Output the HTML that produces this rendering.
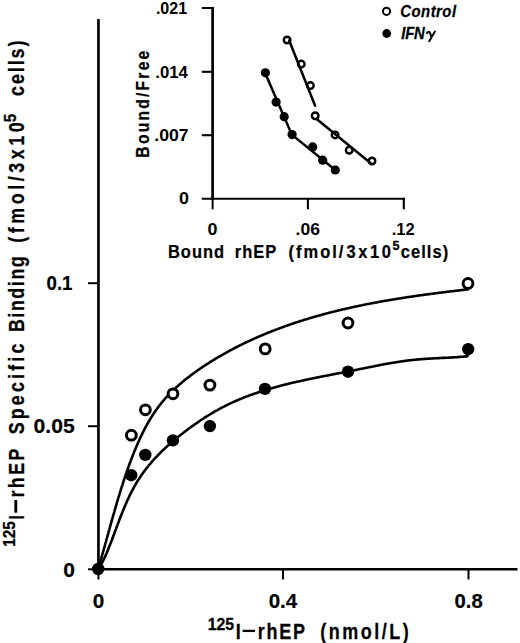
<!DOCTYPE html>
<html><head><meta charset="utf-8"><style>
html,body{margin:0;padding:0;background:#fff;}
body{width:520px;height:643px;overflow:hidden;font-family:"Liberation Sans",sans-serif;}
svg{display:block;}
</style></head><body>
<svg width="520" height="643" viewBox="0 0 520 643">
<rect width="520" height="643" fill="#fff"/>
<g stroke="#000" fill="none">
<line x1="98.45" y1="19.0" x2="98.45" y2="570.65" stroke-width="2.7"/>
<line x1="97.10000000000001" y1="569.3" x2="517.5" y2="569.3" stroke-width="2.4"/>
<line x1="88.0" y1="283.2" x2="98.45" y2="283.2" stroke-width="2.0"/>
<line x1="88.0" y1="426.2" x2="98.45" y2="426.2" stroke-width="2.0"/>
<line x1="88.0" y1="569.3" x2="98.45" y2="569.3" stroke-width="2.0"/>
<line x1="98.45" y1="569.3" x2="98.45" y2="579.5" stroke-width="2.0"/>
<line x1="283.0" y1="569.3" x2="283.0" y2="579.5" stroke-width="2.0"/>
<line x1="468.5" y1="569.3" x2="468.5" y2="579.5" stroke-width="2.0"/>
</g>
<path d="M98.1,569.1 L98.4,568.2 L98.7,567.2 L99.0,566.2 L99.3,565.2 L99.6,564.2 L99.8,563.2 L100.1,562.2 L100.4,561.3 L100.7,560.3 L101.0,559.3 L101.3,558.3 L101.5,557.3 L101.8,556.3 L102.1,555.3 L102.4,554.4 L102.7,553.4 L102.9,552.4 L103.2,551.4 L103.5,550.4 L103.8,549.4 L104.0,548.4 L104.3,547.4 L104.6,546.5 L104.9,545.5 L105.1,544.5 L105.4,543.5 L105.7,542.5 L106.0,541.5 L106.2,540.5 L106.5,539.5 L106.8,538.5 L107.1,537.5 L107.3,536.6 L107.6,535.6 L107.9,534.6 L108.2,533.6 L108.4,532.6 L108.7,531.6 L109.0,530.6 L109.3,529.6 L109.5,528.6 L109.8,527.7 L110.1,526.7 L110.4,525.7 L110.6,524.7 L110.9,523.7 L111.2,522.7 L111.5,521.7 L111.7,520.7 L112.0,519.7 L112.3,518.7 L112.6,517.8 L112.8,516.8 L113.1,515.8 L113.4,514.8 L113.7,513.8 L114.0,512.8 L114.3,511.8 L114.5,510.8 L114.8,509.8 L115.1,508.9 L115.4,507.9 L115.7,506.9 L116.0,505.9 L116.3,504.9 L116.5,503.9 L116.8,502.9 L117.1,502.0 L117.4,501.0 L117.7,500.0 L118.0,499.0 L118.3,498.0 L118.6,497.0 L118.9,496.0 L119.2,495.1 L119.5,494.1 L119.8,493.1 L120.1,492.1 L120.4,491.1 L120.7,490.2 L121.0,489.2 L121.3,488.2 L121.6,487.2 L122.0,486.2 L122.3,485.2 L122.6,484.3 L122.9,483.3 L123.2,482.3 L123.5,481.3 L123.9,480.4 L124.2,479.4 L124.5,478.4 L124.8,477.4 L125.2,476.5 L125.5,475.5 L125.8,474.5 L126.2,473.5 L126.5,472.6 L126.8,471.6 L127.2,470.6 L127.5,469.6 L127.9,468.7 L128.2,467.7 L128.5,466.7 L128.9,465.8 L129.2,464.8 L129.6,463.8 L130.0,462.9 L130.3,461.9 L130.7,460.9 L131.0,460.0 L131.4,459.0 L131.8,458.0 L132.1,457.1 L132.5,456.1 L132.9,455.2 L133.3,454.2 L133.6,453.2 L134.0,452.3 L134.4,451.3 L134.8,450.4 L135.2,449.4 L135.6,448.5 L136.0,447.5 L136.4,446.6 L136.8,445.6 L137.2,444.7 L137.6,443.7 L138.0,442.8 L138.4,441.8 L138.9,440.9 L139.3,440.0 L139.7,439.0 L140.1,438.1 L140.6,437.2 L141.0,436.2 L141.5,435.3 L141.9,434.4 L142.4,433.5 L142.8,432.6 L143.3,431.6 L143.7,430.7 L144.2,429.8 L144.7,428.9 L145.2,428.0 L145.6,427.1 L146.1,426.2 L146.6,425.3 L147.1,424.4 L147.6,423.5 L148.1,422.6 L148.6,421.8 L149.1,420.9 L149.6,420.0 L150.2,419.1 L150.7,418.3 L151.2,417.4 L151.8,416.5 L152.3,415.7 L152.9,414.8 L153.4,414.0 L154.0,413.1 L154.6,412.3 L155.1,411.4 L155.7,410.6 L156.3,409.8 L156.9,409.0 L157.5,408.1 L158.1,407.3 L158.7,406.5 L159.3,405.7 L159.9,404.9 L160.6,404.1 L161.2,403.3 L161.8,402.5 L162.5,401.8 L163.1,401.0 L163.8,400.2 L164.4,399.4 L165.1,398.7 L165.8,397.9 L166.5,397.2 L167.2,396.4 L167.9,395.7 L168.6,394.9 L169.3,394.2 L170.0,393.5 L170.7,392.8 L171.4,392.0 L172.1,391.3 L172.9,390.6 L173.6,389.9 L174.3,389.2 L175.1,388.5 L175.8,387.8 L176.6,387.1 L177.3,386.4 L178.1,385.7 L178.9,385.1 L179.6,384.4 L180.4,383.7 L181.2,383.1 L182.0,382.4 L182.7,381.7 L183.5,381.1 L184.3,380.4 L185.1,379.8 L185.9,379.1 L186.7,378.5 L187.5,377.9 L188.4,377.2 L189.2,376.6 L190.0,376.0 L190.8,375.3 L191.6,374.7 L192.5,374.1 L193.3,373.5 L194.1,372.9 L195.0,372.3 L195.8,371.7 L196.6,371.1 L197.5,370.5 L198.3,369.9 L199.2,369.3 L200.0,368.7 L200.9,368.2 L201.7,367.6 L202.6,367.0 L203.4,366.4 L204.3,365.9 L205.2,365.3 L206.0,364.7 L206.9,364.2 L207.7,363.6 L208.6,363.1 L209.5,362.5 L210.4,362.0 L211.2,361.4 L212.1,360.9 L213.0,360.3 L213.8,359.8 L214.7,359.3 L215.6,358.7 L216.5,358.2 L217.4,357.7 L218.2,357.2 L219.1,356.6 L220.0,356.1 L220.9,355.6 L221.8,355.1 L222.7,354.6 L223.6,354.1 L224.5,353.6 L225.4,353.1 L226.3,352.6 L227.2,352.1 L228.1,351.6 L229.0,351.1 L229.9,350.6 L230.8,350.1 L231.7,349.6 L232.6,349.2 L233.5,348.7 L234.4,348.2 L235.3,347.7 L236.2,347.3 L237.1,346.8 L238.0,346.3 L238.9,345.9 L239.8,345.4 L240.8,345.0 L241.7,344.5 L242.6,344.1 L243.5,343.6 L244.4,343.2 L245.4,342.7 L246.3,342.3 L247.2,341.9 L248.1,341.4 L249.1,341.0 L250.0,340.6 L250.9,340.1 L251.8,339.7 L252.8,339.3 L253.7,338.9 L254.6,338.4 L255.6,338.0 L256.5,337.6 L257.4,337.2 L258.4,336.8 L259.3,336.4 L260.3,336.0 L261.2,335.6 L262.1,335.2 L263.1,334.8 L264.0,334.4 L265.0,334.0 L265.9,333.6 L266.9,333.2 L267.8,332.8 L268.8,332.4 L269.7,332.1 L270.7,331.7 L271.6,331.3 L272.6,330.9 L273.5,330.6 L274.5,330.2 L275.4,329.8 L276.4,329.5 L277.4,329.1 L278.3,328.7 L279.3,328.4 L280.2,328.0 L281.2,327.7 L282.2,327.3 L283.1,327.0 L284.1,326.6 L285.0,326.3 L286.0,325.9 L287.0,325.6 L287.9,325.3 L288.9,324.9 L289.9,324.6 L290.9,324.2 L291.8,323.9 L292.8,323.6 L293.8,323.3 L294.7,322.9 L295.7,322.6 L296.7,322.3 L297.7,322.0 L298.6,321.7 L299.6,321.3 L300.6,321.0 L301.6,320.7 L302.6,320.4 L303.5,320.1 L304.5,319.8 L305.5,319.5 L306.5,319.2 L307.5,318.9 L308.4,318.6 L309.4,318.3 L310.4,318.0 L311.4,317.7 L312.4,317.4 L313.4,317.1 L314.4,316.9 L315.4,316.6 L316.3,316.3 L317.3,316.0 L318.3,315.7 L319.3,315.5 L320.3,315.2 L321.3,314.9 L322.3,314.6 L323.3,314.4 L324.3,314.1 L325.3,313.8 L326.3,313.6 L327.3,313.3 L328.3,313.1 L329.2,312.8 L330.2,312.5 L331.2,312.3 L332.2,312.0 L333.2,311.8 L334.2,311.5 L335.2,311.3 L336.2,311.0 L337.2,310.8 L338.2,310.5 L339.2,310.3 L340.2,310.1 L341.2,309.8 L342.2,309.6 L343.2,309.3 L344.3,309.1 L345.3,308.9 L346.3,308.6 L347.3,308.4 L348.3,308.2 L349.3,308.0 L350.3,307.7 L351.3,307.5 L352.3,307.3 L353.3,307.1 L354.3,306.8 L355.3,306.6 L356.3,306.4 L357.3,306.2 L358.3,306.0 L359.4,305.8 L360.4,305.6 L361.4,305.4 L362.4,305.1 L363.4,304.9 L364.4,304.7 L365.4,304.5 L366.4,304.3 L367.4,304.1 L368.4,303.9 L369.5,303.7 L370.5,303.5 L371.5,303.3 L372.5,303.1 L373.5,303.0 L374.5,302.8 L375.5,302.6 L376.5,302.4 L377.6,302.2 L378.6,302.0 L379.6,301.8 L380.6,301.6 L381.6,301.5 L382.6,301.3 L383.6,301.1 L384.7,300.9 L385.7,300.7 L386.7,300.6 L387.7,300.4 L388.7,300.2 L389.7,300.0 L390.7,299.9 L391.8,299.7 L392.8,299.5 L393.8,299.4 L394.8,299.2 L395.8,299.0 L396.8,298.9 L397.8,298.7 L398.9,298.5 L399.9,298.4 L400.9,298.2 L401.9,298.0 L402.9,297.9 L403.9,297.7 L405.0,297.6 L406.0,297.4 L407.0,297.3 L408.0,297.1 L409.0,297.0 L410.0,296.8 L411.0,296.7 L412.1,296.5 L413.1,296.4 L414.1,296.2 L415.1,296.1 L416.1,295.9 L417.1,295.8 L418.1,295.6 L419.2,295.5 L420.2,295.3 L421.2,295.2 L422.2,295.1 L423.2,294.9 L424.2,294.8 L425.2,294.6 L426.3,294.5 L427.3,294.4 L428.3,294.2 L429.3,294.1 L430.3,294.0 L431.3,293.8 L432.3,293.7 L433.3,293.6 L434.4,293.4 L435.4,293.3 L436.4,293.2 L437.4,293.0 L438.4,292.9 L439.4,292.8 L440.4,292.7 L441.4,292.5 L442.4,292.4 L443.4,292.3 L444.4,292.2 L445.5,292.0 L446.5,291.9 L447.5,291.8 L448.5,291.7 L449.5,291.5 L450.5,291.4 L451.5,291.3 L452.5,291.2 L453.5,291.1 L454.5,290.9 L455.5,290.8 L456.5,290.7 L457.5,290.6 L458.5,290.5 L459.5,290.4 L460.5,290.2 L461.5,290.1 L462.5,290.0 L463.5,289.9 L464.5,289.8 L465.5,289.7 L466.5,289.6" stroke="#000" stroke-width="2.6" fill="none" stroke-linejoin="round"/>
<path d="M98.4,569.3 L98.9,568.5 L99.4,567.7 L99.8,566.9 L100.3,566.1 L100.8,565.2 L101.2,564.4 L101.6,563.6 L102.1,562.8 L102.5,562.0 L102.9,561.1 L103.3,560.3 L103.7,559.5 L104.1,558.6 L104.5,557.8 L104.9,557.0 L105.3,556.1 L105.7,555.3 L106.0,554.4 L106.4,553.6 L106.8,552.7 L107.1,551.9 L107.5,551.0 L107.8,550.2 L108.2,549.3 L108.5,548.5 L108.9,547.6 L109.2,546.8 L109.6,545.9 L109.9,545.0 L110.2,544.2 L110.6,543.3 L110.9,542.5 L111.2,541.6 L111.6,540.7 L111.9,539.9 L112.2,539.0 L112.6,538.1 L112.9,537.3 L113.2,536.4 L113.5,535.5 L113.9,534.7 L114.2,533.8 L114.5,532.9 L114.8,532.0 L115.2,531.2 L115.5,530.3 L115.8,529.4 L116.1,528.6 L116.4,527.7 L116.8,526.8 L117.1,525.9 L117.4,525.1 L117.7,524.2 L118.1,523.3 L118.4,522.5 L118.7,521.6 L119.1,520.7 L119.4,519.8 L119.7,519.0 L120.1,518.1 L120.4,517.2 L120.7,516.3 L121.1,515.5 L121.4,514.6 L121.8,513.7 L122.1,512.9 L122.5,512.0 L122.8,511.1 L123.2,510.3 L123.5,509.4 L123.9,508.5 L124.2,507.7 L124.6,506.8 L125.0,505.9 L125.4,505.1 L125.7,504.2 L126.1,503.3 L126.5,502.5 L126.9,501.6 L127.2,500.8 L127.6,499.9 L128.0,499.1 L128.4,498.2 L128.8,497.4 L129.2,496.5 L129.6,495.7 L130.0,494.9 L130.4,494.0 L130.9,493.2 L131.3,492.4 L131.7,491.5 L132.1,490.7 L132.6,489.9 L133.0,489.1 L133.4,488.2 L133.9,487.4 L134.3,486.6 L134.8,485.8 L135.2,485.0 L135.7,484.2 L136.2,483.4 L136.6,482.6 L137.1,481.8 L137.6,481.0 L138.1,480.2 L138.6,479.5 L139.1,478.7 L139.6,477.9 L140.1,477.2 L140.6,476.4 L141.1,475.6 L141.6,474.9 L142.2,474.1 L142.7,473.4 L143.2,472.6 L143.8,471.9 L144.3,471.2 L144.9,470.4 L145.4,469.7 L146.0,469.0 L146.5,468.2 L147.1,467.5 L147.7,466.8 L148.3,466.1 L148.8,465.4 L149.4,464.7 L150.0,464.0 L150.6,463.3 L151.2,462.6 L151.8,461.9 L152.4,461.2 L153.0,460.5 L153.6,459.8 L154.2,459.2 L154.9,458.5 L155.5,457.8 L156.1,457.1 L156.7,456.5 L157.4,455.8 L158.0,455.1 L158.6,454.5 L159.3,453.8 L159.9,453.2 L160.6,452.5 L161.2,451.9 L161.9,451.2 L162.6,450.6 L163.2,450.0 L163.9,449.3 L164.6,448.7 L165.2,448.1 L165.9,447.4 L166.6,446.8 L167.3,446.2 L168.0,445.6 L168.7,445.0 L169.4,444.3 L170.0,443.7 L170.7,443.1 L171.4,442.5 L172.1,441.9 L172.8,441.3 L173.6,440.7 L174.3,440.1 L175.0,439.5 L175.7,438.9 L176.4,438.3 L177.1,437.7 L177.8,437.2 L178.6,436.6 L179.3,436.0 L180.0,435.4 L180.8,434.8 L181.5,434.2 L182.2,433.7 L183.0,433.1 L183.7,432.5 L184.4,432.0 L185.2,431.4 L185.9,430.8 L186.7,430.3 L187.4,429.7 L188.1,429.1 L188.9,428.6 L189.6,428.0 L190.4,427.5 L191.2,426.9 L191.9,426.4 L192.7,425.8 L193.4,425.3 L194.2,424.8 L195.0,424.2 L195.7,423.7 L196.5,423.1 L197.3,422.6 L198.0,422.1 L198.8,421.6 L199.6,421.0 L200.3,420.5 L201.1,420.0 L201.9,419.5 L202.7,419.0 L203.5,418.5 L204.2,418.0 L205.0,417.4 L205.8,416.9 L206.6,416.4 L207.4,416.0 L208.2,415.5 L209.0,415.0 L209.8,414.5 L210.6,414.0 L211.4,413.5 L212.2,413.1 L213.0,412.6 L213.8,412.1 L214.6,411.6 L215.4,411.2 L216.2,410.7 L217.0,410.3 L217.8,409.8 L218.6,409.4 L219.4,408.9 L220.3,408.5 L221.1,408.0 L221.9,407.6 L222.7,407.2 L223.5,406.8 L224.4,406.3 L225.2,405.9 L226.0,405.5 L226.8,405.1 L227.7,404.7 L228.5,404.3 L229.3,403.9 L230.2,403.5 L231.0,403.1 L231.9,402.7 L232.7,402.3 L233.5,401.9 L234.4,401.6 L235.2,401.2 L236.1,400.8 L236.9,400.4 L237.8,400.1 L238.6,399.7 L239.4,399.4 L240.3,399.0 L241.2,398.7 L242.0,398.3 L242.9,398.0 L243.7,397.6 L244.6,397.3 L245.4,396.9 L246.3,396.6 L247.2,396.3 L248.0,396.0 L248.9,395.6 L249.7,395.3 L250.6,395.0 L251.5,394.7 L252.3,394.4 L253.2,394.1 L254.1,393.8 L254.9,393.5 L255.8,393.2 L256.7,392.9 L257.6,392.6 L258.4,392.3 L259.3,392.0 L260.2,391.7 L261.1,391.4 L262.0,391.1 L262.8,390.8 L263.7,390.6 L264.6,390.3 L265.5,390.0 L266.4,389.8 L267.2,389.5 L268.1,389.2 L269.0,389.0 L269.9,388.7 L270.8,388.4 L271.7,388.2 L272.6,387.9 L273.5,387.7 L274.4,387.4 L275.2,387.2 L276.1,386.9 L277.0,386.7 L277.9,386.5 L278.8,386.2 L279.7,386.0 L280.6,385.7 L281.5,385.5 L282.4,385.3 L283.3,385.1 L284.2,384.8 L285.1,384.6 L286.0,384.4 L286.9,384.1 L287.8,383.9 L288.7,383.7 L289.6,383.5 L290.5,383.3 L291.4,383.1 L292.3,382.8 L293.2,382.6 L294.1,382.4 L295.0,382.2 L295.9,382.0 L296.9,381.8 L297.8,381.6 L298.7,381.4 L299.6,381.2 L300.5,381.0 L301.4,380.8 L302.3,380.6 L303.2,380.4 L304.1,380.2 L305.0,380.0 L305.9,379.8 L306.9,379.6 L307.8,379.4 L308.7,379.2 L309.6,379.0 L310.5,378.8 L311.4,378.7 L312.3,378.5 L313.2,378.3 L314.2,378.1 L315.1,377.9 L316.0,377.7 L316.9,377.5 L317.8,377.4 L318.7,377.2 L319.6,377.0 L320.6,376.8 L321.5,376.6 L322.4,376.5 L323.3,376.3 L324.2,376.1 L325.1,375.9 L326.0,375.7 L327.0,375.6 L327.9,375.4 L328.8,375.2 L329.7,375.0 L330.6,374.8 L331.5,374.7 L332.4,374.5 L333.4,374.3 L334.3,374.1 L335.2,374.0 L336.1,373.8 L337.0,373.6 L337.9,373.4 L338.8,373.3 L339.8,373.1 L340.7,372.9 L341.6,372.7 L342.5,372.6 L343.4,372.4 L344.3,372.2 L345.2,372.0 L346.1,371.8 L347.1,371.7 L348.0,371.5 L348.9,371.3 L349.8,371.1 L350.7,371.0 L351.6,370.8 L352.5,370.6 L353.4,370.4 L354.3,370.2 L355.3,370.0 L356.2,369.9 L357.1,369.7 L358.0,369.5 L358.9,369.3 L359.8,369.1 L360.7,368.9 L361.6,368.8 L362.5,368.6 L363.4,368.4 L364.3,368.2 L365.2,368.0 L366.1,367.8 L367.0,367.7 L368.0,367.5 L368.9,367.3 L369.8,367.1 L370.7,366.9 L371.6,366.7 L372.5,366.6 L373.4,366.4 L374.3,366.2 L375.2,366.0 L376.1,365.8 L377.0,365.7 L377.9,365.5 L378.8,365.3 L379.7,365.1 L380.6,365.0 L381.5,364.8 L382.4,364.6 L383.4,364.4 L384.3,364.3 L385.2,364.1 L386.1,363.9 L387.0,363.8 L387.9,363.6 L388.8,363.5 L389.7,363.3 L390.6,363.1 L391.5,363.0 L392.4,362.8 L393.3,362.7 L394.3,362.5 L395.2,362.4 L396.1,362.2 L397.0,362.1 L397.9,361.9 L398.8,361.8 L399.7,361.7 L400.6,361.5 L401.5,361.4 L402.5,361.3 L403.4,361.1 L404.3,361.0 L405.2,360.9 L406.1,360.7 L407.0,360.6 L408.0,360.5 L408.9,360.4 L409.8,360.3 L410.7,360.2 L411.6,360.1 L412.6,360.0 L413.5,359.9 L414.4,359.8 L415.3,359.7 L416.2,359.6 L417.2,359.5 L418.1,359.4 L419.0,359.4 L420.0,359.3 L420.9,359.2 L421.8,359.1 L422.7,359.1 L423.7,359.0 L424.6,358.9 L425.5,358.9 L426.5,358.8 L427.4,358.7 L428.3,358.7 L429.2,358.6 L430.2,358.6 L431.1,358.5 L432.0,358.5 L433.0,358.4 L433.9,358.4 L434.8,358.3 L435.8,358.3 L436.7,358.2 L437.6,358.2 L438.6,358.1 L439.5,358.1 L440.4,358.0 L441.4,358.0 L442.3,357.9 L443.2,357.9 L444.2,357.9 L445.1,357.8 L446.0,357.8 L447.0,357.7 L447.9,357.7 L448.8,357.6 L449.7,357.6 L450.7,357.5 L451.6,357.5 L452.5,357.4 L453.5,357.4 L454.4,357.3 L455.3,357.2 L456.2,357.2 L457.2,357.1 L458.1,357.0 L459.0,357.0 L459.9,356.9 L460.8,356.8 L461.8,356.8 L462.7,356.7 L463.6,356.6 L464.5,356.5 L465.4,356.4 L466.4,356.4 L467.3,356.3 L468.2,356.2" stroke="#000" stroke-width="2.6" fill="none" stroke-linejoin="round"/>
<path d="M466.9,290.4 L467.6,289.4" stroke="#000" stroke-width="2.6" fill="none"/>
<path d="M467.8,356.3 L467.8,353" stroke="#000" stroke-width="2.6" fill="none"/>
<circle cx="131.35" cy="435.2" r="4.9" fill="#fff" stroke="#000" stroke-width="3.0"/>
<circle cx="145.4" cy="409.8" r="4.9" fill="#fff" stroke="#000" stroke-width="3.0"/>
<circle cx="173" cy="393.8" r="4.9" fill="#fff" stroke="#000" stroke-width="3.0"/>
<circle cx="209.9" cy="385.1" r="4.9" fill="#fff" stroke="#000" stroke-width="3.0"/>
<circle cx="265.2" cy="348.9" r="4.9" fill="#fff" stroke="#000" stroke-width="3.0"/>
<circle cx="348" cy="323" r="4.9" fill="#fff" stroke="#000" stroke-width="3.0"/>
<circle cx="468" cy="283.5" r="4.9" fill="#fff" stroke="#000" stroke-width="3.0"/>
<circle cx="98.2" cy="569" r="6.2" fill="#000"/>
<circle cx="131.2" cy="475.2" r="6.2" fill="#000"/>
<circle cx="145.3" cy="454.9" r="6.2" fill="#000"/>
<circle cx="172.9" cy="440.4" r="6.2" fill="#000"/>
<circle cx="209.9" cy="426.1" r="6.2" fill="#000"/>
<circle cx="265" cy="388.9" r="6.2" fill="#000"/>
<circle cx="348" cy="371.7" r="6.2" fill="#000"/>
<circle cx="468.2" cy="349.1" r="6.2" fill="#000"/>
<g stroke="#000" stroke-width="2.1" fill="none">
<line x1="212.6" y1="6.9" x2="212.6" y2="199.8" stroke-width="2.7"/>
<line x1="212.6" y1="198.8" x2="212.6" y2="209.3" stroke-width="2.0"/>
<line x1="201.8" y1="198.8" x2="405.0" y2="198.8"/>
<line x1="201.8" y1="8.0" x2="212.6" y2="8.0"/>
<line x1="201.8" y1="71.8" x2="212.6" y2="71.8"/>
<line x1="201.8" y1="135.2" x2="212.6" y2="135.2"/>
<line x1="307.9" y1="198.8" x2="307.9" y2="209.3"/>
<line x1="403.8" y1="198.8" x2="403.8" y2="209.3"/>
</g>
<circle cx="287.1" cy="40" r="3.3" fill="#fff" stroke="#000" stroke-width="2.4"/>
<circle cx="301.3" cy="64.1" r="3.3" fill="#fff" stroke="#000" stroke-width="2.4"/>
<circle cx="310.4" cy="85.6" r="3.3" fill="#fff" stroke="#000" stroke-width="2.4"/>
<circle cx="315.2" cy="115.8" r="3.3" fill="#fff" stroke="#000" stroke-width="2.4"/>
<circle cx="335.1" cy="134.9" r="3.3" fill="#fff" stroke="#000" stroke-width="2.4"/>
<circle cx="349.2" cy="150.2" r="3.3" fill="#fff" stroke="#000" stroke-width="2.4"/>
<circle cx="372" cy="161" r="3.3" fill="#fff" stroke="#000" stroke-width="2.4"/>
<circle cx="265.4" cy="72.8" r="4.6" fill="#000"/>
<circle cx="276.1" cy="102.1" r="4.6" fill="#000"/>
<circle cx="284.2" cy="116.7" r="4.6" fill="#000"/>
<circle cx="292.1" cy="134.6" r="4.6" fill="#000"/>
<circle cx="312.7" cy="146.9" r="4.6" fill="#000"/>
<circle cx="322.7" cy="160.2" r="4.6" fill="#000"/>
<circle cx="335.3" cy="170" r="4.6" fill="#000"/>
<g stroke="#000" stroke-width="2.5" fill="none" stroke-linecap="round" stroke-linejoin="round">
<polyline points="289.2,40.5 315.1,105.8"/>
<polyline points="316.3,118.8 370.5,163.0"/>
<polyline points="265.0,72.8 291.8,134.6 335.3,170"/>
</g>
<circle cx="386.5" cy="11.3" r="3.6" fill="#fff" stroke="#000" stroke-width="2.0"/>
<circle cx="386.7" cy="33.5" r="4.4" fill="#000"/>
<g font-family="Liberation Sans, sans-serif" font-weight="bold" fill="#000">
<text id="yt01" x="46.56" y="290.2" font-size="19.6" stroke="#000" stroke-width="0.2" stroke-linejoin="round" textLength="25.93" lengthAdjust="spacingAndGlyphs">0.1</text>
<text id="yt005" x="33.56" y="433.4" font-size="19.6" stroke="#000" stroke-width="0.2" stroke-linejoin="round" textLength="41.07" lengthAdjust="spacingAndGlyphs">0.05</text>
<text id="yt0" x="63.35" y="576.7" font-size="19.6" stroke="#000" stroke-width="0.2" stroke-linejoin="round" textLength="11.67" lengthAdjust="spacingAndGlyphs">0</text>
<text id="xt0" x="92.78" y="608.4" font-size="19.6" stroke="#000" stroke-width="0.2" stroke-linejoin="round" textLength="11.54" lengthAdjust="spacingAndGlyphs">0</text>
<text id="xt04" x="268.69" y="608.0" font-size="19.6" stroke="#000" stroke-width="0.2" stroke-linejoin="round" textLength="28.57" lengthAdjust="spacingAndGlyphs">0.4</text>
<text id="xt08" x="454.54" y="607.8" font-size="19.6" stroke="#000" stroke-width="0.2" stroke-linejoin="round" textLength="28.22" lengthAdjust="spacingAndGlyphs">0.8</text>
<text id="i021" x="155.91" y="13.6" font-size="15.9" textLength="31.24" lengthAdjust="spacingAndGlyphs">.021</text>
<text id="i014" x="155.35" y="77.5" font-size="15.9" textLength="32.58" lengthAdjust="spacingAndGlyphs">.014</text>
<text id="i007" x="154.30" y="141.2" font-size="15.9" textLength="34.38" lengthAdjust="spacingAndGlyphs">.007</text>
<text id="i0y" x="179.13" y="204.4" font-size="15.9" textLength="9.97" lengthAdjust="spacingAndGlyphs">0</text>
<text id="i0x" x="207.57" y="234.9" font-size="15.9" textLength="9.94" lengthAdjust="spacingAndGlyphs">0</text>
<text id="i06" x="295.56" y="234.7" font-size="15.9" textLength="24.33" lengthAdjust="spacingAndGlyphs">.06</text>
<text id="i12" x="391.68" y="234.6" font-size="15.9" textLength="22.96" lengthAdjust="spacingAndGlyphs">.12</text>
<text id="ixB" transform="scale(0.9,1)" x="186.60" y="257.7" font-size="18.3" stroke="#000" stroke-width="0.25" stroke-linejoin="round" textLength="62.42" lengthAdjust="spacing">Bound</text>
<text id="ixr" transform="scale(0.9,1)" x="260.88" y="257.7" font-size="18.3" stroke="#000" stroke-width="0.25" stroke-linejoin="round" textLength="46.11" lengthAdjust="spacing">rhEP</text>
<text id="ixf" transform="scale(0.9,1)" x="320.68" y="257.7" font-size="18.3" stroke="#000" stroke-width="0.25" stroke-linejoin="round" textLength="60.89" lengthAdjust="spacing">(fmol/</text>
<text id="ixg" transform="scale(0.9,1)" x="385.12" y="257.7" font-size="18.3" stroke="#000" stroke-width="0.25" stroke-linejoin="round" textLength="49.28" lengthAdjust="spacing">3x10</text>
<text id="ix5" x="392.57" y="249.7" font-size="13.2" stroke="#000" stroke-width="0.3" stroke-linejoin="round" textLength="6.99" lengthAdjust="spacingAndGlyphs">5</text>
<text id="ixc" transform="scale(0.9,1)" x="445.23" y="257.7" font-size="18.3" stroke="#000" stroke-width="0.25" stroke-linejoin="round" textLength="52.71" lengthAdjust="spacing">cells)</text>
<text id="lgC" transform="scale(0.92,1)" x="435.12" y="16.9" font-size="16.2" font-style="italic" stroke="#000" stroke-width="0.25" stroke-linejoin="round" textLength="60.58" lengthAdjust="spacing">Control</text>
<text id="lgI" transform="scale(0.92,1)" x="436.03" y="38.8" font-size="16.2" font-style="italic" stroke="#000" stroke-width="0.25" stroke-linejoin="round" textLength="25.79" lengthAdjust="spacing">IFN</text>
<text id="x125" x="207.63" y="629.6" font-size="15.9" stroke="#000" stroke-width="0.3" stroke-linejoin="round" textLength="26.28" lengthAdjust="spacingAndGlyphs">125</text>
<text id="xI1" transform="scale(0.8,1)" x="294.56" y="638.8" font-size="22.5" stroke="#000" stroke-width="0.25" stroke-linejoin="round" textLength="6.24" lengthAdjust="spacingAndGlyphs">I</text>
<text id="xr" transform="scale(0.8,1)" x="322.29" y="638.8" font-size="22.5" stroke="#000" stroke-width="0.25" stroke-linejoin="round" textLength="58.85" lengthAdjust="spacing">rhEP</text>
<text id="xn" transform="scale(0.8,1)" x="400.39" y="638.8" font-size="22.5" stroke="#000" stroke-width="0.25" stroke-linejoin="round" textLength="110.65" lengthAdjust="spacing">(nmol/L)</text>
<text id="y125" transform="translate(14.8,546.71) rotate(-90)" x="0" y="0" font-size="16.4" stroke="#000" stroke-width="0.3" stroke-linejoin="round" textLength="25.54" lengthAdjust="spacingAndGlyphs">125</text>
<text id="yI1" transform="translate(24.1,519.53) rotate(-90) scale(0.8,1)" x="0" y="0" font-size="22.3" stroke="#000" stroke-width="0.25" stroke-linejoin="round" textLength="5.31" lengthAdjust="spacingAndGlyphs">I</text>
<text id="yr" transform="translate(24.1,497.56) rotate(-90) scale(0.8,1)" x="0" y="0" font-size="22.3" stroke="#000" stroke-width="0.25" stroke-linejoin="round" textLength="61.15" lengthAdjust="spacing">rhEP</text>
<text id="yS" transform="translate(24.1,434.27) rotate(-90) scale(0.8,1)" x="0" y="0" font-size="22.3" stroke="#000" stroke-width="0.25" stroke-linejoin="round" textLength="113.33" lengthAdjust="spacing">Specific</text>
<text id="yB" transform="translate(24.1,332.09) rotate(-90) scale(0.8,1)" x="0" y="0" font-size="22.3" stroke="#000" stroke-width="0.25" stroke-linejoin="round" textLength="94.82" lengthAdjust="spacing">Binding</text>
<text id="yf" transform="translate(24.1,242.75) rotate(-90) scale(0.8,1)" x="0" y="0" font-size="22.3" stroke="#000" stroke-width="0.25" stroke-linejoin="round" textLength="150.51" lengthAdjust="spacing">(fmol/3x10</text>
<text id="y5" transform="translate(15.6,122.28) rotate(-90)" x="0" y="0" font-size="16.4" stroke="#000" stroke-width="0.3" stroke-linejoin="round" textLength="8.48" lengthAdjust="spacingAndGlyphs">5</text>
<text id="yc" transform="translate(24.1,95.95) rotate(-90) scale(0.8,1)" x="0" y="0" font-size="22.3" stroke="#000" stroke-width="0.25" stroke-linejoin="round" textLength="69.27" lengthAdjust="spacing">cells)</text>
<text id="iBF" transform="translate(149.2,157.63) rotate(-90) scale(0.87,1)" x="0" y="0" font-size="18.0" stroke="#000" stroke-width="0.25" stroke-linejoin="round" textLength="122.89" lengthAdjust="spacing">Bound/Free</text>
</g>
<line x1="242.6" y1="630.9" x2="255.0" y2="630.9" stroke="#000" stroke-width="2.3"/>
<line x1="15.8" y1="512.7" x2="15.8" y2="500.0" stroke="#000" stroke-width="2.9"/>
<path d="M427.0,33.3 C427.4,31.3 429.4,30.9 430.2,33.4 L431.3,36.8 M434.9,31.5 L429.2,41.2" stroke="#000" stroke-width="2.0" fill="none" stroke-linecap="round"/>
</svg>
</body></html>
